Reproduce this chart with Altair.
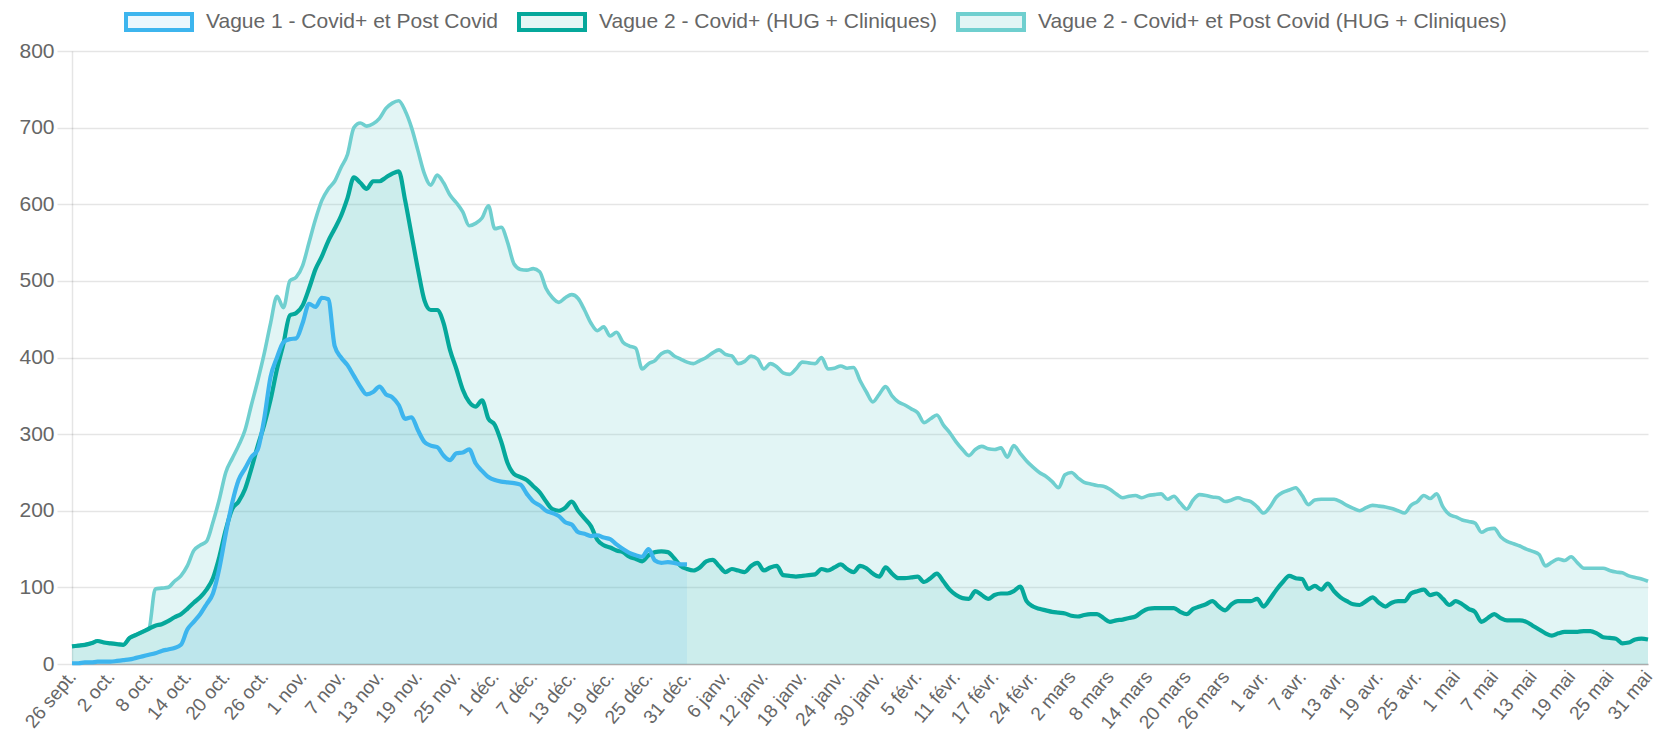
import altair as alt
import pandas as pd

series_names = [
    "Vague 1 - Covid+ et Post Covid",
    "Vague 2 - Covid+ (HUG + Cliniques)",
    "Vague 2 - Covid+ et Post Covid (HUG + Cliniques)",
]
line_colors = ["#3db5ee", "#05a89b", "#6fcfcf"]
fill_colors = ["rgba(61,181,238,0.1)", "rgba(5,168,155,0.1)", "rgba(111,207,207,0.2)"]
line_widths = [4.2, 4.2, 3.6]

tick_labels = [
    "26 sept.", "2 oct.", "8 oct.", "14 oct.", "20 oct.", "26 oct.",
    "1 nov.", "7 nov.", "13 nov.", "19 nov.", "25 nov.",
    "1 déc.", "7 déc.", "13 déc.", "19 déc.", "25 déc.", "31 déc.",
    "6 janv.", "12 janv.", "18 janv.", "24 janv.", "30 janv.",
    "5 févr.", "11 févr.", "17 févr.", "24 févr.",
    "2 mars", "8 mars", "14 mars", "20 mars", "26 mars",
    "1 avr.", "7 avr.", "13 avr.", "19 avr.", "25 avr.",
    "1 mai", "7 mai", "13 mai", "19 mai", "25 mai", "31 mai",
]

# Vague 1 (26 sept. -> 31 déc.)
vague1 = [
    1, 1, 2, 2, 3, 3, 3, 4, 5, 6,
    8, 10, 12, 14, 17, 19, 21, 25, 45, 55,
    65, 78, 92, 125, 170, 210, 240, 255, 270, 280,
    320, 375, 400, 420, 424, 425, 445, 470, 466, 478,
    476, 415, 400, 390, 376, 362, 352, 355, 362, 352,
    348, 338, 320, 322, 305, 290, 285, 283, 272, 266,
    275, 276, 280, 262, 252, 244, 240, 238, 237, 236,
    234, 222, 212, 207, 200, 197, 193, 185, 182, 172,
    170, 167, 168, 165, 163, 156, 150, 145, 142, 140,
    150, 135, 132, 133, 132, 130, 130,
]

# Vague 2 - Covid+ (HUG + Cliniques)
vague2_covid = [
    23, 24, 25, 27, 30, 28, 27, 26, 25, 34,
    38, 42, 46, 50, 52, 56, 61, 65, 72, 80,
    87, 97, 112, 140, 175, 202, 212, 228, 255, 285,
    312, 345, 385, 418, 455, 458, 468, 490, 515, 532,
    552, 568, 585, 608, 635, 628, 620, 630, 630, 635,
    640, 643, 605, 560, 515, 475, 462, 462, 445, 410,
    385, 358, 342, 336, 344, 320, 312, 290, 262, 248,
    244, 240, 232, 224, 212, 202, 200, 204, 212, 200,
    190, 180, 162, 155, 152, 148, 146, 140, 137, 134,
    142, 146, 147, 146, 138, 128, 124, 122, 126, 134,
    136, 128, 120, 124, 122, 120, 128, 132, 122, 126,
    128, 116, 115, 114, 115, 116, 117, 124, 122, 126,
    130, 124, 120, 128, 125, 118, 114, 126, 118, 112,
    112, 113, 114, 107, 112, 118, 108, 97, 90, 86,
    85, 95, 90, 85, 90, 92, 92, 95, 101, 82,
    75, 72, 70, 68, 67, 66, 63, 62, 64, 65,
    65, 60, 55, 57, 58, 60, 62, 68, 72, 73,
    73, 73, 73, 68, 65, 72, 75, 78, 82, 75,
    70, 78, 82, 82, 82, 85, 75, 85, 97, 107,
    115, 112, 111, 98, 102, 97, 105, 95, 87, 82,
    78, 77, 82, 87, 80, 75, 80, 82, 82, 92,
    95, 97, 90, 92, 85, 77, 82, 78, 72, 68,
    55, 60, 65, 60, 57, 57, 57, 55, 50, 45,
    40, 37, 40, 42, 42, 42, 43, 43, 40, 35,
    34, 33, 27, 28, 32, 33, 32,
]

# Vague 2 - Covid+ et Post Covid (HUG + Cliniques)
vague2_post = [
    23, 24, 25, 27, 30, 28, 27, 26, 25, 34,
    38, 42, 46, 98, 99, 100, 108, 115, 128, 148,
    155, 160, 185, 215, 250, 268, 285, 305, 338, 370,
    405, 445, 480, 465, 500, 505, 520, 550, 580, 605,
    620, 630, 648, 665, 700, 706, 702, 705, 712, 725,
    732, 735, 722, 700, 670, 640, 625, 638, 628, 612,
    602, 590, 572, 575, 582, 598, 568, 570, 550, 522,
    515, 514, 516, 512, 490, 478, 472, 478, 482, 477,
    462, 445, 435, 440, 428, 433, 420, 415, 412, 385,
    392, 396, 405, 408, 402, 398, 394, 392, 396, 400,
    406, 410, 404, 402, 392, 395, 402, 398, 385, 392,
    388, 380, 378, 385, 394, 393, 392, 400, 385, 386,
    389, 386, 387, 370, 355, 342, 352, 362, 350, 342,
    338, 333, 328, 315, 320, 325, 312, 302, 290, 280,
    272, 280, 284, 281, 280, 282, 270, 285, 275, 265,
    257, 250, 245, 238, 230, 247, 250, 243, 237, 235,
    233, 232, 228, 222, 217, 219, 220, 217, 220, 221,
    222, 215, 219, 210, 202, 214, 221, 220, 218, 217,
    212, 214, 217, 214, 212, 205, 197, 205, 218, 224,
    227, 230, 220, 208, 214, 215, 215, 215, 212, 207,
    203, 200, 204, 207, 206, 205, 203, 200, 197, 207,
    212, 220, 216, 222, 205, 195, 192, 188, 186, 184,
    172, 176, 177, 166, 160, 157, 154, 150, 147, 143,
    128, 133, 137, 135, 140, 132, 125, 125, 125, 125,
    122, 120, 119, 115, 113, 111, 108,
]

month_abbr = {9: "sept.", 10: "oct.", 11: "nov.", 12: "déc.", 1: "janv.",
              2: "févr.", 3: "mars", 4: "avr.", 5: "mai"}
dates = pd.date_range("2020-09-26", "2021-05-31", freq="D")
dates = dates[dates != pd.Timestamp("2021-02-20")]
days = [f"{d.day} {month_abbr[d.month]}" for d in dates]

rows = []
for name, vals in zip(series_names, [vague1, vague2_covid, vague2_post]):
    for i, v in enumerate(vals):
        rows.append({"day": days[i], "series": name, "value": v})
df = pd.DataFrame(rows)

FONT = "Liberation Sans"
GREY = "#666666"

leg = alt.Legend(
    orient="none", legendX=52, legendY=-64, direction="horizontal", title=None,
    symbolType="M-1,-0.2424H1V0.2424H-1Z", symbolSize=4356, symbolStrokeWidth=4,
    symbolOpacity=1, labelFontSize=21, labelFont=FONT, labelColor=GREY,
    labelOffset=12, columnPadding=12, labelLimit=800,
)

fill_scale = alt.Scale(domain=series_names, range=fill_colors)
stroke_scale = alt.Scale(domain=series_names, range=line_colors)

base = alt.Chart(df).encode(
    x=alt.X(
        "day:O", sort=days, title=None,
        scale=alt.Scale(type="point", padding=0),
        axis=alt.Axis(
            values=tick_labels, labelAngle=-50, labelAlign="right", labelBaseline="middle",
            labelOverlap=False, labelFontSize=19, labelFont=FONT, labelColor=GREY,
            labelPadding=9, ticks=False, grid=False, domainColor="rgba(0,0,0,0.25)",
            domainWidth=1.5,
        ),
    ),
    y=alt.Y(
        "value:Q", title=None,
        scale=alt.Scale(domain=[0, 800], nice=False),
        axis=alt.Axis(
            values=list(range(0, 801, 100)), labelFontSize=21, labelFont=FONT,
            labelColor=GREY, labelPadding=3, tickSize=15, tickColor="rgba(0,0,0,0.1)",
            tickWidth=1.5, gridColor="rgba(0,0,0,0.1)", gridWidth=1.5,
            domainColor="rgba(0,0,0,0.1)", domainWidth=1.5,
        ),
    ),
)

order = [2, 1, 0]
layers = []
for k in order:
    name = series_names[k]
    layers.append(
        base.transform_filter(alt.datum.series == name)
        .mark_area(interpolate="monotone")
        .encode(fill=alt.Fill("series:N", scale=fill_scale, legend=leg))
    )
for k in order:
    name = series_names[k]
    layers.append(
        base.transform_filter(alt.datum.series == name)
        .mark_line(interpolate="monotone", strokeWidth=line_widths[k], strokeJoin="round")
        .encode(stroke=alt.Stroke("series:N", scale=stroke_scale, legend=leg))
    )

chart = alt.layer(*layers).properties(
    width=1576, height=613,
    autosize=alt.AutoSizeParams(type="none"),
    padding={"left": 64, "top": 43, "right": 9, "bottom": 75},
    background="white",
).configure_view(stroke=None)

chart.save("out.html", embed_options={"renderer": "svg", "actions": False})
